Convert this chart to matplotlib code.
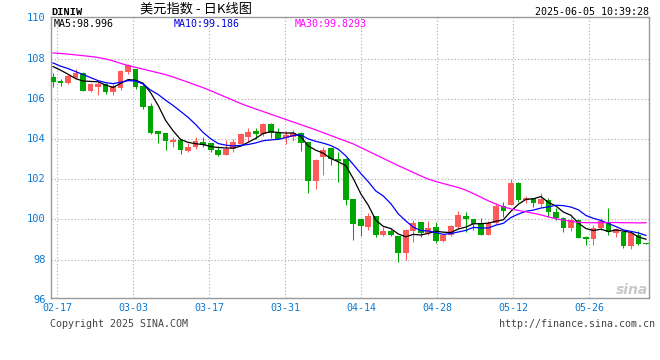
import matplotlib
matplotlib.use("Agg")
import matplotlib.pyplot as plt
import numpy as np

# daily candles, DINIW (Feb 14 .. Jun 5)
opens = [107.10, 106.88, 106.80, 107.05, 107.27, 106.38, 106.60, 106.75, 106.33, 106.53,
         107.35, 107.47, 106.63, 105.63, 104.37, 104.27, 103.85, 103.93, 103.40, 103.60,
         103.87, 103.80, 103.47, 103.22, 103.52, 103.77, 104.10, 104.37, 104.22, 104.72,
         104.27, 104.05, 104.10, 104.27, 103.83, 101.93, 103.08, 103.53, 103.02, 103.02,
         101.02, 100.02, 99.63, 100.17, 99.22, 99.43, 99.17, 98.33, 99.43, 99.85,
         99.30, 99.60, 98.92, 99.22, 99.60, 100.17, 100.00, 99.80, 99.22, 99.80,
         100.67, 100.72, 101.83, 100.97, 101.05, 100.77, 100.97, 100.38, 100.08, 99.58,
         99.97, 99.13, 99.00, 99.55, 99.80, 99.30, 99.38, 98.68, 99.22, 98.82]
highs = [107.26, 106.98, 107.22, 107.47, 107.32, 106.80, 106.83, 106.76, 106.75, 107.43,
         107.72, 107.48, 106.75, 105.80, 104.38, 104.28, 104.10, 103.95, 103.80, 104.10,
         104.10, 103.82, 103.67, 103.93, 104.00, 104.27, 104.52, 104.52, 104.77, 104.77,
         104.55, 104.38, 104.42, 104.35, 103.85, 103.00, 103.58, 103.55, 103.35, 103.03,
         101.03, 100.03, 100.30, 100.18, 99.63, 99.50, 99.18, 99.50, 99.97, 99.87,
         99.93, 99.85, 99.28, 99.72, 100.42, 100.38, 100.02, 100.08, 99.90, 100.83,
         100.85, 102.02, 101.85, 101.17, 101.07, 101.30, 101.05, 100.55, 100.10, 100.13,
         100.00, 99.18, 99.72, 100.05, 100.58, 99.58, 99.40, 99.38, 99.42, 98.83]
lows = [106.60, 106.63, 106.75, 106.97, 106.37, 106.33, 106.18, 106.25, 106.18, 106.43,
        107.25, 106.50, 105.50, 104.25, 103.78, 103.47, 103.58, 103.23, 103.33, 103.50,
        103.58, 103.33, 103.17, 103.20, 103.33, 103.75, 103.88, 104.00, 104.13, 104.05,
        104.00, 103.75, 103.88, 103.38, 101.30, 101.52, 102.18, 102.72, 101.85, 100.72,
        98.97, 99.17, 99.47, 99.10, 99.17, 99.17, 97.88, 98.00, 98.85, 99.13,
        99.22, 98.83, 98.85, 99.17, 99.58, 99.38, 99.47, 99.20, 99.20, 99.78,
        100.13, 100.70, 100.88, 100.80, 100.60, 100.60, 100.13, 99.97, 99.35, 99.42,
        99.05, 98.72, 98.72, 99.47, 99.22, 99.13, 98.58, 98.52, 98.72, 98.77]
closes = [106.83, 106.80, 107.13, 107.27, 106.38, 106.72, 106.72, 106.33, 106.63, 107.38,
          107.67, 106.58, 105.58, 104.30, 104.22, 103.92, 103.97, 103.43, 103.62, 103.88,
          103.72, 103.43, 103.22, 103.50, 103.85, 104.22, 104.35, 104.22, 104.72, 104.27,
          104.02, 104.20, 104.30, 103.80, 101.93, 102.97, 103.47, 103.00, 102.92, 100.97,
          99.77, 99.67, 100.17, 99.22, 99.43, 99.22, 98.33, 99.47, 99.80, 99.30,
          99.58, 98.92, 99.22, 99.67, 100.22, 100.00, 99.77, 99.22, 99.83, 100.67,
          100.43, 101.83, 100.97, 101.05, 100.80, 101.00, 100.38, 100.05, 99.58, 99.97,
          99.08, 99.00, 99.58, 99.92, 99.35, 99.50, 98.68, 99.30, 98.77, 98.78]

ma5 = [107.60, 107.42, 107.22, 107.00, 106.88, 106.86, 106.84, 106.68, 106.56, 106.76,
       106.95, 106.92, 106.77, 106.30, 105.67, 104.92, 104.40, 103.97, 103.83, 103.76,
       103.72, 103.62, 103.57, 103.55, 103.54, 103.64, 103.83, 104.03, 104.27, 104.36,
       104.32, 104.29, 104.30, 104.12, 103.65, 103.44, 103.29, 103.03, 102.86, 102.67,
       102.03, 101.27, 100.70, 99.96, 99.65, 99.54, 99.27, 99.13, 99.25, 99.22,
       99.30, 99.41, 99.36, 99.34, 99.52, 99.61, 99.78, 99.78, 99.81, 99.90,
       99.98, 100.40, 100.75, 100.99, 101.02, 101.13, 100.84, 100.66, 100.36, 100.20,
       99.81, 99.54, 99.44, 99.51, 99.39, 99.47, 99.41, 99.35, 99.12, 99.01]
ma10 = [107.78, 107.62, 107.50, 107.35, 107.20, 107.05, 106.90, 106.80, 106.75, 106.82,
        106.90, 106.88, 106.73, 106.43, 106.21, 105.93, 105.66, 105.37, 105.07, 104.72,
        104.32, 104.01, 103.77, 103.69, 103.65, 103.68, 103.72, 103.80, 103.91, 103.95,
        103.98, 104.06, 104.17, 104.20, 104.00, 103.88, 103.79, 103.67, 103.49, 103.16,
        102.73, 102.28, 101.87, 101.41, 101.16, 100.78, 100.27, 99.92, 99.61, 99.44,
        99.42, 99.34, 99.25, 99.29, 99.37, 99.45, 99.60, 99.57, 99.57, 99.71,
        99.80, 100.09, 100.26, 100.40, 100.46, 100.56, 100.62, 100.70, 100.68, 100.61,
        100.47, 100.19, 100.05, 99.94, 99.79, 99.64, 99.47, 99.40, 99.32, 99.20]
ma30 = [108.28, 108.25, 108.22, 108.18, 108.14, 108.10, 108.05, 107.98, 107.88, 107.76,
        107.65, 107.56, 107.47, 107.38, 107.29, 107.20, 107.08, 106.95, 106.82, 106.68,
        106.55, 106.40, 106.24, 106.08, 105.92, 105.76, 105.62, 105.49, 105.36, 105.23,
        105.10, 104.97, 104.84, 104.71, 104.58, 104.45, 104.31, 104.17, 104.03, 103.89,
        103.75, 103.57, 103.39, 103.21, 103.03, 102.85, 102.67, 102.50, 102.33, 102.16,
        102.00, 101.88, 101.78, 101.68, 101.58, 101.45, 101.28, 101.10, 100.92, 100.76,
        100.62, 100.52, 100.44, 100.37, 100.30, 100.22, 100.12, 100.03, 99.96, 99.90,
        99.85, 99.83, 99.83, 99.83, 99.84, 99.84, 99.83, 99.83, 99.82, 99.83]

date_labels = ["02-17", "03-03", "03-17", "03-31", "04-14", "04-28", "05-12", "05-26"]
y_grid = [98, 100, 102, 104, 106, 108]
y_labels = [96, 98, 100, 102, 104, 106, 108, 110]

RED = "#ff5a5a"
GREEN = "#00a600"
TICK_BLUE = "#0a78d2"
MONO = "DejaVu Sans Mono"
W, H = 660, 360


def fx(px):
    return px / W


def fy(py):
    return 1 - py / H


fig = plt.figure(figsize=(6.6, 3.6), dpi=100)
fig.patch.set_facecolor("white")
ax = fig.add_axes([fx(50.7), fy(297.7), fx(649.3) - fx(50.7), fy(17.3) - fy(297.7)])

x = np.arange(len(closes))
o = np.array(opens)
c = np.array(closes)
cols = np.where(c >= o, RED, GREEN)

ax.vlines(x, lows, highs, colors=cols, linewidth=0.75, zorder=2)
ax.bar(x, np.maximum(np.abs(c - o), 0.04), bottom=np.minimum(o, c), width=0.76,
       color=cols, linewidth=0, zorder=3)

ax.plot(x, ma5, color="black", linewidth=0.9, zorder=4)
ax.plot(x, ma10, color="#0000ff", linewidth=0.9, zorder=4)
ax.plot(x, ma30, color="#ff00ff", linewidth=0.9, zorder=4)

# candles are 7.506 px apart, vertical grid every 76 px
grid_x = [(57.3 - 53 + 76 * k) / 7.506 for k in range(len(date_labels))]
ax.set_xlim(-0.31, 79.44)
ax.set_ylim(96.10, 110.05)
ax.set_xticks(grid_x, date_labels)
ax.set_yticks(y_grid, [""] * len(y_grid))
ax.grid(True, color="#aaaaaa", linestyle=(0, (1, 2)), linewidth=0.8)
ax.set_axisbelow(True)
ax.tick_params(axis="both", length=0)
ax.tick_params(axis="x", pad=3.8, labelsize=7.2, labelcolor=TICK_BLUE)
for lab in ax.get_xticklabels():
    lab.set_fontfamily(MONO)

for v in y_labels:
    ax.text(-0.008, v, str(v), transform=ax.get_yaxis_transform(), ha="right",
            va="center", fontsize=7.5, color=TICK_BLUE, family=MONO, clip_on=False)

for s in ax.spines.values():
    s.set_color("#999999")
    s.set_linewidth(1.0)

fig.text(fx(51), fy(12), "DINIW", fontsize=7.5, fontweight="bold",
         family="Liberation Mono", va="center")
fig.text(fx(140), fy(9), "美元指数 - 日K线图", fontsize=9.5, va="center",
         family=["Noto Sans CJK SC", "DejaVu Sans"])
fig.text(fx(649.3), fy(12), "2025-06-05 10:39:28", fontsize=7.2, family=MONO,
         ha="right", va="center")

fig.text(fx(54), fy(24), "MA5:98.996", fontsize=7.2, family=MONO, color="black", va="center")
fig.text(fx(174), fy(24), "MA10:99.186", fontsize=7.2, family=MONO, color="#0000dd", va="center")
fig.text(fx(295), fy(24), "MA30:99.8293", fontsize=7.2, family=MONO, color="#ff00ff", va="center")

fig.text(fx(632), fy(290), "sina", fontsize=10, fontweight="bold", style="italic",
         color="#c8c8c8", ha="center", va="center")

fig.text(fx(50), fy(324), "Copyright 2025 SINA.COM", fontsize=7.2, family=MONO,
         color="#444444", va="center")
fig.text(fx(655), fy(324), "http://finance.sina.com.cn", fontsize=7.2, family=MONO,
         color="#444444", ha="right", va="center")

fig.savefig("out.png", dpi=100)
